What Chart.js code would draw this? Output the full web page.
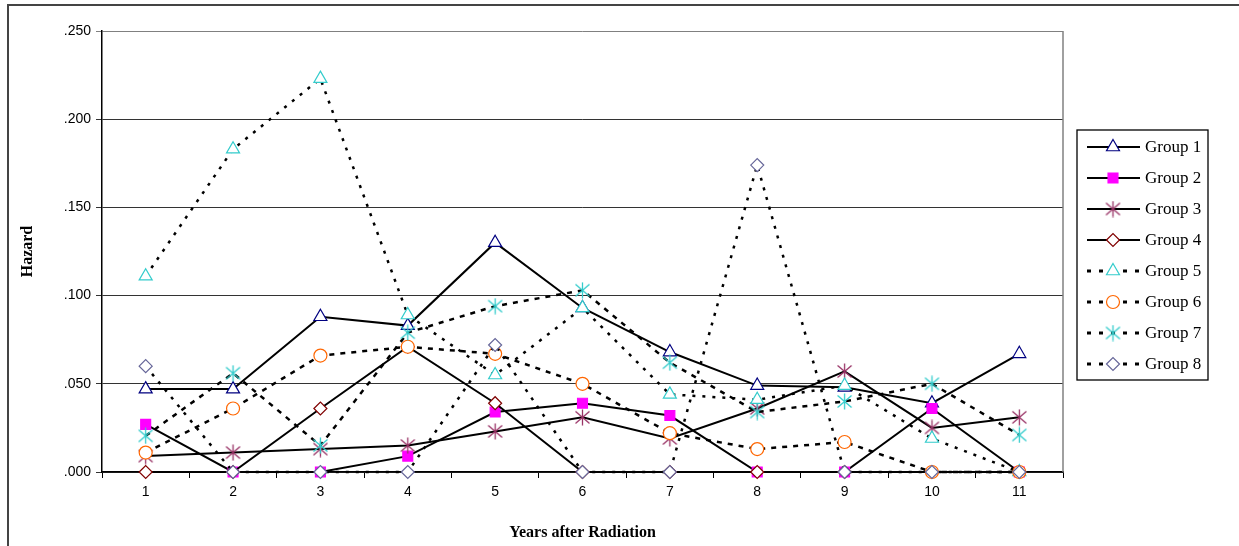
<!DOCTYPE html>
<html>
<head>
<meta charset="utf-8">
<script src="https://cdn.jsdelivr.net/npm/chart.js@4/dist/chart.umd.min.js"></script>
<style>
    body { margin: 0; background: #fff; }
    .frame { position: absolute; left: 7px; top: 4px; width: 1300px; height: 600px; border-top: 2px solid #444; border-left: 2px solid #444; }
    #hazard { position: absolute; left: 0; top: 0; }
</style>
</head>
<body>
<div class="frame"></div>
<canvas id="hazard" width="1239" height="546"></canvas>
<script>
const years = ["1", "2", "3", "4", "5", "6", "7", "8", "9", "10", "11"]
const yTicks = [0, 0.05, 0.1, 0.15, 0.2, 0.25]

const group1 = [0.047, 0.047, 0.088, 0.083, 0.130, 0.093, 0.068, 0.049, 0.048, 0.039, 0.067]
const group2 = [0.027, 0, 0, 0.009, 0.034, 0.039, 0.032, 0, 0, 0.036, 0]
const group3 = [0.009, 0.011, 0.013, 0.015, 0.023, 0.031, 0.019, 0.036, 0.057, 0.025, 0.031]
const group4 = [0, 0, 0.036, 0.071, 0.039, 0, 0, 0, 0, 0, 0]
const group5 = [0.111, 0.183, 0.223, 0.089, 0.055, 0.093, 0.044, 0.041, 0.049, 0.019, 0]
const group6 = [0.011, 0.036, 0.066, 0.071, 0.067, 0.050, 0.022, 0.013, 0.017, 0, 0]
const group7 = [0.0205, 0.056, 0.015, 0.079, 0.094, 0.103, 0.062, 0.034, 0.040, 0.050, 0.021]
const group8 = [0.060, 0, 0, 0, 0.072, 0, 0, 0.174, 0, 0, 0]

// asterisk marker: vertical bar plus an X
const asterisk = (color) => {
    const c = document.createElement("canvas")
    c.width = 17; c.height = 17
    const g = c.getContext("2d")
    g.strokeStyle = color
    g.lineWidth = 1.3
    g.beginPath()
    g.moveTo(8.5, 0.5); g.lineTo(8.5, 16.5)
    g.moveTo(1.5, 2.5); g.lineTo(15.5, 14.5)
    g.moveTo(15.5, 2.5); g.lineTo(1.5, 14.5)
    g.stroke()
    return c
}

const series = [
    { label: "Group 1", data: group1, color: "#000080", style: "triangle", radius: 7.5, fill: "#fff", dash: [] },
    { label: "Group 2", data: group2, color: "#FF00FF", style: "rect", radius: 7, fill: "#FF00FF", dash: [] },
    { label: "Group 3", data: group3, color: "#993366", style: asterisk("#993366"), radius: 8, fill: "#fff", dash: [] },
    { label: "Group 4", data: group4, color: "#800000", style: "rectRot", radius: 6.5, fill: "#fff", dash: [] },
    { label: "Group 5", data: group5, color: "#33CCCC", style: "triangle", radius: 7.5, fill: "#fff", dash: [3, 7] },
    { label: "Group 6", data: group6, color: "#FF6600", style: "circle", radius: 6.5, fill: "#fff", dash: [5, 6] },
    { label: "Group 7", data: group7, color: "#33CCCC", style: asterisk("#33CCCC"), radius: 8, fill: "#fff", dash: [5, 6] },
    { label: "Group 8", data: group8, color: "#666699", style: "rectRot", radius: 6.5, fill: "#fff", dash: [3, 7] }
]

// boxed legend on the right: line sample with marker, then the name
const sideLegend = {
    id: "sideLegend",
    afterDraw(chart) {
        const ctx = chart.ctx
        const x0 = 1077, y0 = 130, w = 131, h = 250
        ctx.save()
        ctx.strokeStyle = "#000"
        ctx.lineWidth = 1.3
        ctx.strokeRect(x0, y0, w, h)
        series.forEach((s, i) => {
            const y = 147 + i * 31
            ctx.strokeStyle = "#000"
            ctx.lineWidth = s.dash.length ? 3 : 2
            ctx.setLineDash(s.dash.length ? [4, 8] : [])
            ctx.beginPath()
            ctx.moveTo(1087, y)
            ctx.lineTo(1140, y)
            ctx.stroke()
            ctx.setLineDash([])
            ctx.fillStyle = s.fill
            ctx.strokeStyle = s.color
            ctx.lineWidth = 1.2
            Chart.helpers.drawPoint(ctx, { pointStyle: s.style, radius: s.radius, rotation: 0, borderWidth: 1.2 }, 1113, y)
            ctx.fillStyle = "#000"
            ctx.font = "17px 'Liberation Serif'"
            ctx.textBaseline = "middle"
            ctx.fillText(s.label, 1145, y + 1)
        })
        // plot area frame on the right
        const a = chart.chartArea
        ctx.strokeStyle = "#808080"
        ctx.lineWidth = 1.5
        ctx.beginPath()
        ctx.moveTo(a.right, a.top)
        ctx.lineTo(a.right, a.bottom)
        ctx.stroke()
        ctx.restore()
    }
}

const hazardChart = new Chart(document.getElementById("hazard"), {
    type: "line",
    data: {
        labels: years,
        datasets: series.map((s, i) => ({
            label: s.label,
            data: s.data,
            order: series.length - i,
            clip: false,
            borderColor: "#000",
            borderWidth: s.dash.length ? 2.5 : 2,
            borderDash: s.dash,
            borderCapStyle: "butt",
            tension: 0,
            fill: false,
            pointStyle: s.style,
            pointRadius: s.radius,
            pointHoverRadius: s.radius,
            pointBorderColor: s.color,
            pointBackgroundColor: s.fill,
            pointBorderWidth: 1.2
        }))
    },
    options: {
        responsive: false,
        animation: false,
        events: [],
        layout: { padding: { left: 10, top: 31, right: 176, bottom: 0 } },
        plugins: { legend: { display: false }, tooltip: { enabled: false } },
        scales: {
            x: {
                offset: true,
                afterFit: (s) => { s.height = 74 },
                grid: { offset: true, drawOnChartArea: false, drawTicks: true, tickLength: 6, color: "#000" },
                border: { color: "#000", width: 1.5 },
                ticks: { color: "#000", font: { family: "'Liberation Sans'", size: 14 }, padding: 6 },
                title: { display: true, text: "Years after Radiation", color: "#000",
                    font: { family: "'Liberation Serif'", size: 16, weight: "bold" }, padding: { top: 0, bottom: 4 } }
            },
            y: {
                min: 0,
                max: 0.25,
                afterFit: (s) => { s.width = 92 },
                afterBuildTicks: (s) => { s.ticks = yTicks.map(v => ({ value: v })) },
                grid: {
                    color: (c) => c.tick && c.tick.value === 0.25 ? "#808080" : "#333",
                    lineWidth: 1,
                    tickLength: 6
                },
                border: { color: "#000", width: 1.5 },
                ticks: {
                    color: "#000",
                    padding: 5,
                    font: { family: "'Liberation Sans'", size: 14 },
                    callback: (v) => v.toFixed(3).replace(/^0/, "")
                },
                title: { display: true, text: "Hazard", color: "#000",
                    font: { family: "'Liberation Serif'", size: 16, weight: "bold" }, padding: { top: 8, bottom: 8 } }
            }
        }
    },
    plugins: [sideLegend]
})
</script>
</body>
</html>
